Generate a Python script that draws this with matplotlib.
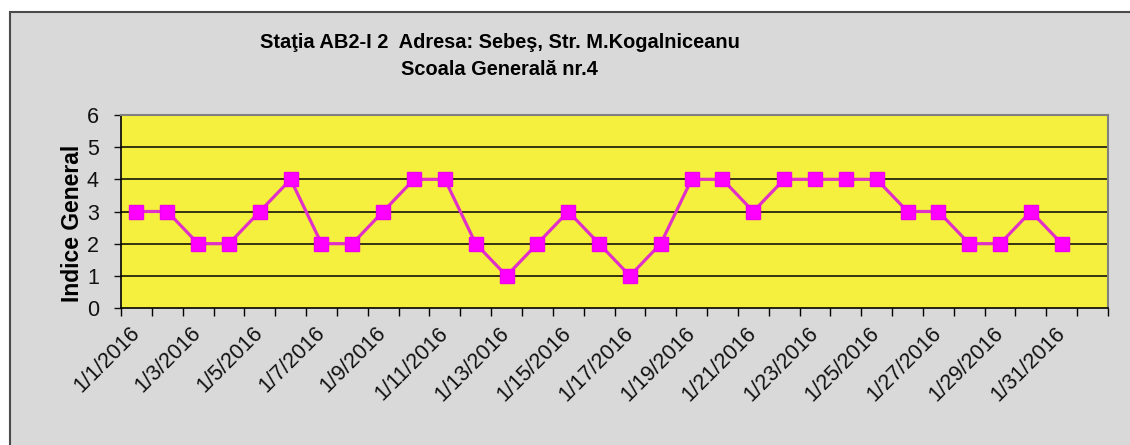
import matplotlib.pyplot as plt
from matplotlib.patches import Rectangle

# date categories (32 slots, the last is empty) and daily index values
dates = [f"1/{d}/2016" for d in range(1, 32)]
indice = [3, 3, 2, 2, 3, 4, 2, 2, 3, 4, 4, 2, 1, 2, 3, 2, 1, 2, 4, 4, 3, 4, 4, 4, 4, 3, 3, 2, 2, 3, 2]
n_slots = 32

title = "Staţia AB2-I 2  Adresa: Sebeş, Str. M.Kogalniceanu\nScoala Generală nr.4"

plt.rcParams['font.family'] = ['Liberation Sans', 'DejaVu Sans']

fig = plt.figure(figsize=(11.3, 4.45), dpi=100)
fig.patch.set_facecolor('white')

# outer chart area (marble-ish grey) with a thin dark frame, cut off at right/bottom
W, H = 1130, 445
fig.patches.append(Rectangle((10 / W, -0.1), 1.2, 1.1 - 12 / H, transform=fig.transFigure,
                             facecolor='#d9d9d9', edgecolor='#4a4a4a', linewidth=1.5, zorder=-5))

ax = fig.add_axes([121 / W, 1 - 308 / H, (1108 - 121) / W, (308 - 115) / H])
ax.set_facecolor('#f5f03e')

x = list(range(len(indice)))
ax.plot(x, indice, color='#e030c8', linewidth=2.3, marker='s', markersize=10.5,
        markerfacecolor='#ff00ff', markeredgecolor='#ee00ee', zorder=3, clip_on=False)

ax.set_xlim(-0.5, n_slots - 0.5)
ax.set_ylim(0, 6)
ax.set_yticks(range(0, 7))
for yv in range(1, 6):
    ax.axhline(yv, color='black', linewidth=1.1, zorder=1)

# tick marks between categories, labels on every second category
ax.set_xticks([i - 0.5 for i in range(n_slots + 1)])
ax.set_xticklabels([])
ax.set_xticks(x[::2], dates[::2], minor=True)
ax.tick_params(axis='x', which='major', direction='out', length=6, width=1, color='black')
ax.tick_params(axis='x', which='minor', length=0, pad=16)
for lbl in ax.get_xticklabels(minor=True):
    lbl.set_rotation(45)
    lbl.set_rotation_mode('anchor')
    lbl.set_ha('right')
    lbl.set_va('center')
    lbl.set_fontsize(15.5)
    lbl.set_color('#111111')

ax.tick_params(axis='y', direction='out', length=5, width=1, labelsize=15.5, pad=11, colors='#111111')

for side in ['top', 'right']:
    ax.spines[side].set_color('#808080')
    ax.spines[side].set_linewidth(1.5)
for side in ['left', 'bottom']:
    ax.spines[side].set_color('black')
    ax.spines[side].set_linewidth(1.2)

ax.set_ylabel('Indice General', fontsize=16.5, fontweight='bold', labelpad=0)
ax.yaxis.set_label_coords(-0.037, 0.44)

fig.text(0.442, 1 - 56 / H, title, ha='center', va='center', fontsize=14.4,
         fontweight='bold', linespacing=1.5)

fig.savefig('out.png', dpi=100)
